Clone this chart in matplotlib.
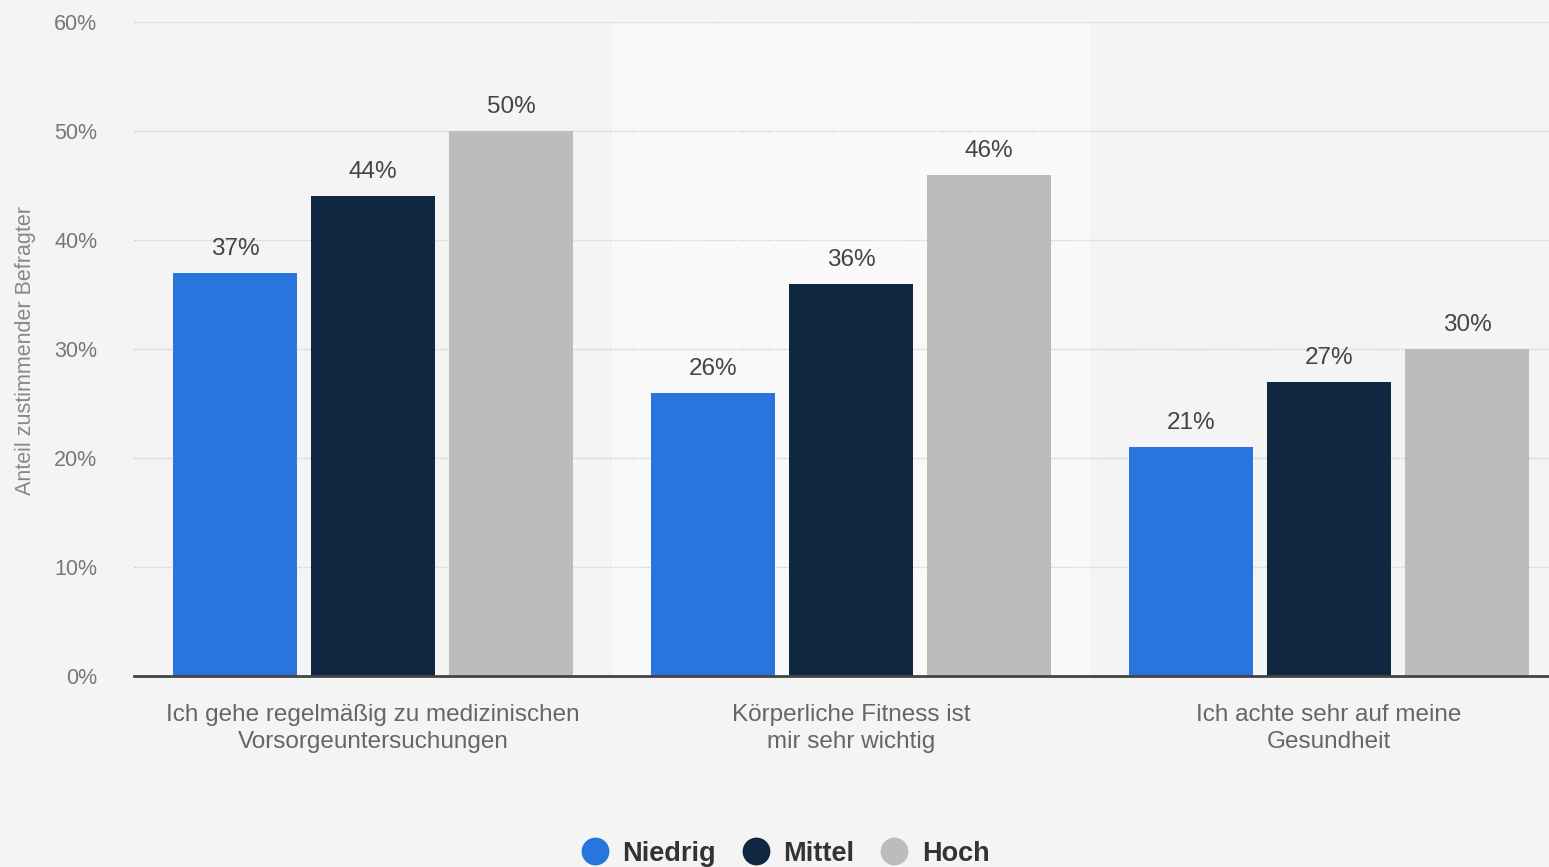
import numpy as np
import matplotlib.pyplot as plt
from matplotlib.lines import Line2D

plt.rcParams['font.family'] = ['Liberation Sans', 'DejaVu Sans']

# Data
categories = ['Ich gehe regelmäßig zu medizinischen\nVorsorgeuntersuchungen',
              'Körperliche Fitness ist\nmir sehr wichtig',
              'Ich achte sehr auf meine\nGesundheit']
series = ['Niedrig', 'Mittel', 'Hoch']
niedrig = [37, 26, 21]
mittel = [44, 36, 27]
hoch = [50, 46, 30]
colors = ['#2876dd', '#0f2740', '#bcbcbc']

fig = plt.figure(figsize=(15.49, 8.67), dpi=100)
fig.patch.set_facecolor('#f4f4f4')
# axes runs slightly past the right edge of the figure, like the original
ax = fig.add_axes([0.0865, 0.2203, 0.9258, 0.7543])
ax.set_facecolor('#f4f4f4')

x = np.arange(len(categories))
width = 0.259
step = 0.2887

# lighter band behind middle group
ax.axvspan(0.5, 1.5, color='#f9f9f9', zorder=0)

for i, (vals, col) in enumerate(zip([niedrig, mittel, hoch], colors)):
    pos = x + (i - 1) * step
    ax.bar(pos, vals, width=width, color=col, zorder=3)
    for p, v in zip(pos, vals):
        ax.text(p, v + 1.2, f'{v}%', ha='center', va='bottom',
                fontsize=17.5, color='#444444', zorder=4)

ax.set_xlim(-0.5, 2.5)
ax.set_ylim(0, 60)
ax.set_yticks(range(0, 61, 10))
ax.set_yticklabels([f'{t}%' for t in range(0, 61, 10)])
ax.set_xticks(x)
ax.set_xticklabels(categories, fontsize=17.5, color='#666666', linespacing=1.3)
ax.tick_params(axis='x', length=0, pad=20)
ax.tick_params(axis='y', length=0, pad=26.5, labelsize=15.5, labelcolor='#777777')

ax.grid(axis='y', color='#cccccc', linestyle=(0, (1, 1)), linewidth=1, zorder=1)
for s in ['top', 'right', 'left']:
    ax.spines[s].set_visible(False)
ax.spines['bottom'].set_color('#444444')
ax.spines['bottom'].set_linewidth(2)
ax.spines['bottom'].set_zorder(5)

ax.set_ylabel('Anteil zustimmender Befragter', fontsize=15.5, color='#888888')
ax.yaxis.set_label_coords(-0.068, 0.497)

handles = [Line2D([0], [0], marker='o', linestyle='', markersize=19,
                  markerfacecolor=c, markeredgecolor=c) for c in colors]
leg = fig.legend(handles, series, loc='center', bbox_to_anchor=(0.5035, 0.0155),
                 ncol=3, frameon=False, fontsize=19.5, handlelength=1.8,
                 handletextpad=0.12, columnspacing=0.57)
for t in leg.get_texts():
    t.set_fontweight('bold')
    t.set_color('#333333')

fig.savefig('out.png', dpi=100, facecolor=fig.get_facecolor())
